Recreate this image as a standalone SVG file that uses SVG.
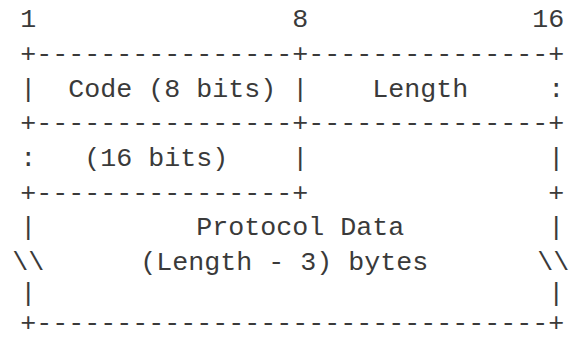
<svg xmlns="http://www.w3.org/2000/svg" width="570" height="339" viewBox="0 0 570 339">
<style>
text { font-family: "Liberation Mono", "Courier New", monospace; font-size: 26.67px; fill: #3a3a3a; white-space: pre; }
</style>
<rect width="570" height="339" fill="#ffffff"/>
<g id="bit-ruler">
<text x="20.3" y="27.3">1</text>
<text x="292.3" y="27.3">8</text>
<text x="532.3" y="27.3">16</text>
</g>
<g id="borders" xml:space="preserve">
<text x="20.3" y="62">+----------------+---------------+</text>
<text x="20.3" y="96.6">|</text>
<text x="292.3" y="96.6">|</text>
<text x="548.3" y="96.6">:</text>
<text x="20.3" y="131.3">+----------------+---------------+</text>
<text x="20.3" y="166">:</text>
<text x="292.3" y="166">|</text>
<text x="548.3" y="166">|</text>
<text x="20.3" y="200.6">+----------------+</text>
<text x="548.3" y="200.6">+</text>
<text x="20.3" y="235.3">|</text>
<text x="548.3" y="235.3">|</text>
<text x="12.3" y="270">\\</text>
<text x="537.3" y="270">\\</text>
<text x="20.3" y="300.5">|</text>
<text x="548.3" y="300.5">|</text>
<text x="20.3" y="331">+--------------------------------+</text>
</g>
<g id="field-code">
<text x="68.3" y="96.6">Code (8 bits)</text>
</g>
<g id="field-length">
<text x="372.3" y="96.6">Length</text>
<text x="84.3" y="166">(16 bits)</text>
</g>
<g id="field-protocol-data">
<text x="196.3" y="235.3">Protocol Data</text>
<text x="140.3" y="270">(Length - 3) bytes</text>
</g>
</svg>
